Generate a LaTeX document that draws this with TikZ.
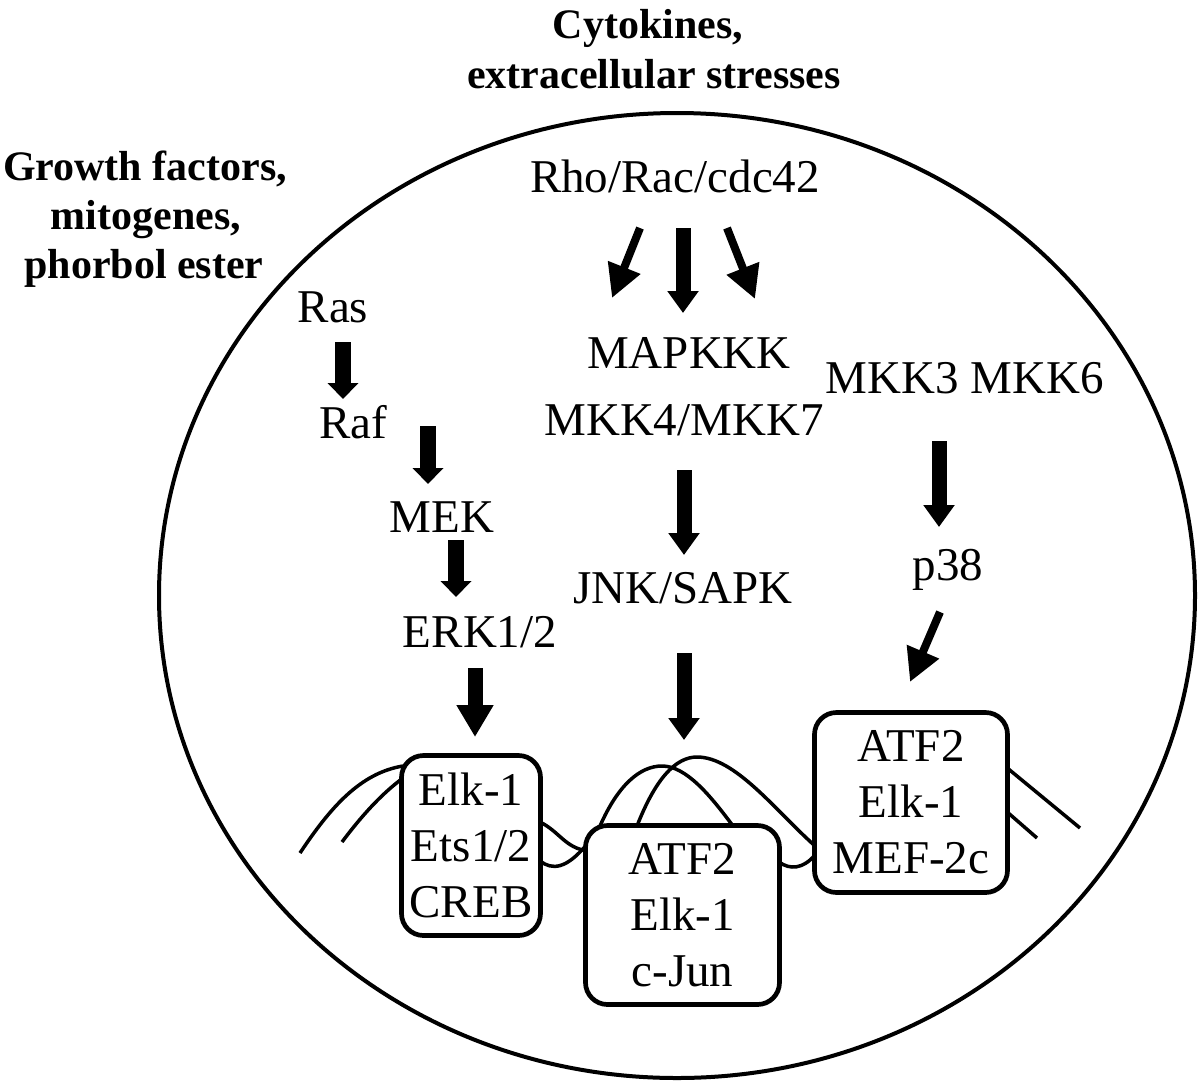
\documentclass[tikz,border=0pt]{standalone}
\usepackage{fontspec}
\setmainfont{Liberation Serif}
\usetikzlibrary{arrows.meta}
\tikzset{
  lbl/.style={anchor=base, inner sep=0pt, font=\fontsize{47}{52}\selectfont},
  ttl/.style={anchor=base, inner sep=0pt, font=\fontsize{42}{48}\selectfont\bfseries},
  tfbox/.style={draw, line width=4.7pt, rounded corners=22pt, fill=white, align=center,
                inner sep=0pt, font=\fontsize{47}{56}\selectfont},
  cellline/.style={line width=4pt},
  dna/.style={line width=3.5pt},
  vshort/.style={line width=15.5pt, -{Triangle[width=30pt,length=16pt]}},
  vlong/.style={line width=15pt, -{Triangle[width=30pt,length=22pt]}},
  verk/.style={line width=15pt, -{Triangle[width=35pt,length=32pt]}},
  diag/.style={line width=8pt, -{Triangle[width=33pt,length=33pt]}}
}
\begin{document}
\begin{tikzpicture}[x=1pt,y=-1pt]
\fill[white] (0,0) rectangle (1200,1088);
\useasboundingbox (0,0) rectangle (1200,1088);

% cell
\draw[cellline] (677,595.5) ellipse [x radius=518pt, y radius=482.5pt];

% DNA strands (behind boxes)
\draw[dna] (300,853) .. controls (330,808) and (360,773) .. (403,766);
\draw[dna] (342,842) .. controls (360,818) and (380,795) .. (403,778);
\draw[dna] (540,822) .. controls (560,832) and (565,848) .. (588,851);
\draw[dna] (540,861) .. controls (552,870) and (566,870) .. (588,843);
\draw[dna] (600,826) .. controls (618,785) and (640,766) .. (662,766)
                     .. controls (686,766) and (710,795) .. (733,826);
\draw[dna] (637,826) .. controls (655,780) and (675,757) .. (697,757)
                     .. controls (735,757) and (775,810) .. (814,845);
\draw[dna] (779,862) .. controls (790,870) and (803,869) .. (815,855);
\draw[dna] (1006,767) -- (1080,828);
\draw[dna] (1006,811) -- (1037,838);

% transcription factor boxes
\node[tfbox, minimum width=139pt, minimum height=180pt] (box1) at (471,845.5) {Elk-1\\Ets1/2\\CREB};
\node[tfbox, minimum width=194pt, minimum height=179pt] (box2) at (682.5,915) {ATF2\\Elk-1\\c-Jun};
\node[tfbox, minimum width=193pt, minimum height=180pt] (box3) at (911,802.5) {ATF2\\Elk-1\\MEF-2c};

% titles
\node[ttl] (cyt1) at (648,38) {Cytokines,};
\node[ttl] (cyt2) at (654,88) {extracellular stresses};
\node[ttl] (gf1) at (145,180) {Growth factors,};
\node[ttl] (gf2) at (146,229) {mitogenes,};
\node[ttl] (gf3) at (144,278) {phorbol ester};

% labels
\node[lbl] (rho) at (675,192) {Rho/Rac/cdc42};
\node[lbl] (ras) at (333,322) {Ras};
\node[lbl] (raf) at (353,438) {Raf};
\node[lbl] (mek) at (442,532) {MEK};
\node[lbl] (erk) at (480,647) {ERK1/2};
\node[lbl] (mapkkk) at (689,368) {MAPKKK};
\node[lbl] (mkk47) at (684,435) {MKK4/MKK7};
\node[lbl] (jnk) at (683,603) {JNK/SAPK};
\node[lbl] (mkk36) at (965,393) {MKK3 MKK6};
\node[lbl] (p38) at (948,580) {p38};

% arrow end points
\coordinate (a1s) at (343,342); \coordinate (a1e) at (343,399);
\coordinate (a2s) at (428,426); \coordinate (a2e) at (428,484);
\coordinate (a3s) at (456,540); \coordinate (a3e) at (456,597);
\coordinate (a4s) at (475,668); \coordinate (a4e) at (475,737);
\coordinate (r0s) at (683,228); \coordinate (r0e) at (683,313);
\coordinate (rls) at (640,228); \coordinate (rle) at (612,298);
\coordinate (rrs) at (727,228); \coordinate (rre) at (755,299);
\coordinate (m1s) at (684,470); \coordinate (m1e) at (684,555);
\coordinate (m2s) at (684,653); \coordinate (m2e) at (684,740);
\coordinate (p1s) at (939,441); \coordinate (p1e) at (939,527);
\coordinate (p2s) at (940,612); \coordinate (p2e) at (910,682);

% arrows
\draw[vshort] (a1s) -- (a1e);
\draw[vshort] (a2s) -- (a2e);
\draw[vshort] (a3s) -- (a3e);
\draw[verk] (a4s) -- (a4e);
\draw[vlong] (r0s) -- (r0e);
\draw[diag] (rls) -- (rle);
\draw[diag] (rrs) -- (rre);
\draw[vlong] (m1s) -- (m1e);
\draw[vlong] (m2s) -- (m2e);
\draw[vlong] (p1s) -- (p1e);
\draw[diag] (p2s) -- (p2e);
\end{tikzpicture}
\end{document}
